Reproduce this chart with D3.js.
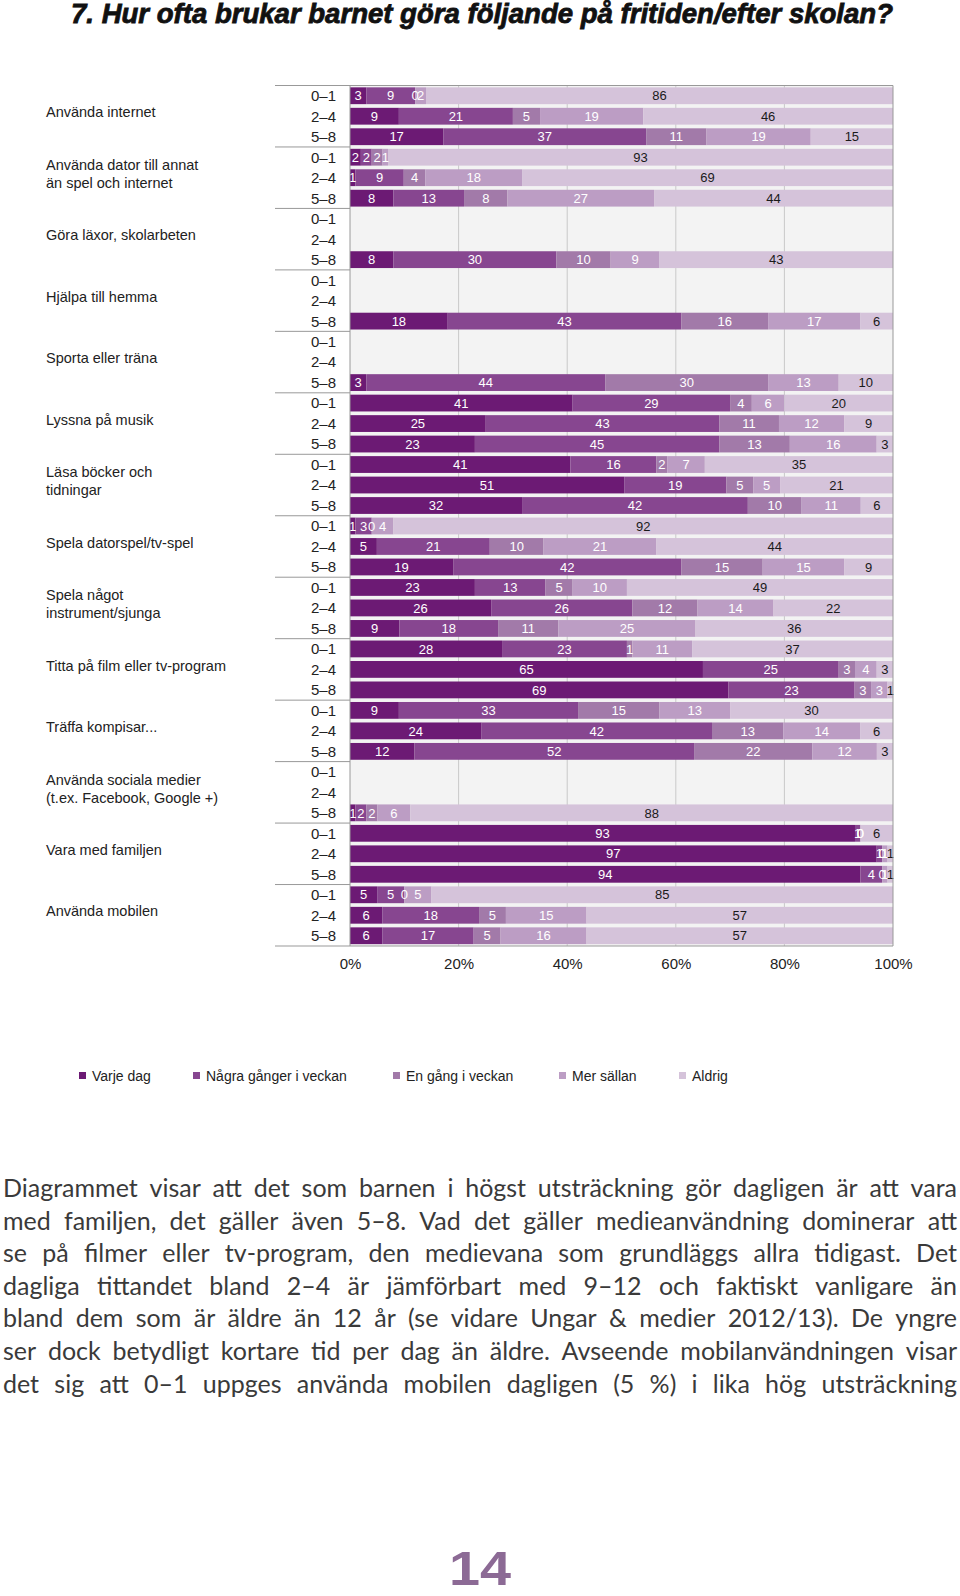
<!DOCTYPE html>
<html><head><meta charset="utf-8">
<script src="https://cdn.jsdelivr.net/npm/d3@7"></script>
<style>
html,body{margin:0;padding:0;background:#fff;}
svg{display:block;}
</style></head>
<body>
<script>
const categories = [
  ["Använda internet"],
  ["Använda dator till annat", "än spel och internet"],
  ["Göra läxor, skolarbeten"],
  ["Hjälpa till hemma"],
  ["Sporta eller träna"],
  ["Lyssna på musik"],
  ["Läsa böcker och", "tidningar"],
  ["Spela datorspel/tv-spel"],
  ["Spela något", "instrument/sjunga"],
  ["Titta på film eller tv-program"],
  ["Träffa kompisar..."],
  ["Använda sociala medier", "(t.ex. Facebook, Google +)"],
  ["Vara med familjen"],
  ["Använda mobilen"]
];
const ageGroups = ["0–1", "2–4", "5–8"];
const seriesNames = ["Varje dag", "Några gånger i veckan", "En gång i veckan", "Mer sällan", "Aldrig"];
const n = null;
const varjeDag   = [3,9,17, 2,1,8, n,n,8, n,n,18, n,n,3, 41,25,23, 41,51,32, 1,5,19, 23,26,9, 28,65,69, 9,24,12, n,n,1, 93,97,94, 5,6,6];
const nagraGanger= [9,21,37, 2,9,13, n,n,30, n,n,43, n,n,44, 29,43,45, 16,19,42, 3,21,42, 13,26,18, 23,25,23, 33,42,52, n,n,2, 1,1,4, 5,18,17];
const enGang     = [0,5,11, 2,4,8, n,n,10, n,n,16, n,n,30, 4,11,13, 2,5,10, 0,10,15, 5,12,11, 1,3,3, 15,13,22, n,n,2, 0,0,0, 0,5,5];
const merSallan  = [2,19,19, 1,18,27, n,n,9, n,n,17, n,n,13, 6,12,16, 7,5,11, 4,21,15, 10,14,25, 11,4,3, 13,14,12, n,n,6, 0,1,1, 5,15,16];
const aldrig     = [86,46,15, 93,69,44, n,n,43, n,n,6, n,n,10, 20,9,3, 35,21,6, 92,44,9, 49,22,36, 37,3,1, 30,6,3, n,n,88, 6,1,1, 85,57,57];
const xTicks = [0, 20, 40, 60, 80, 100];
const title = "7. Hur ofta brukar barnet göra följande på fritiden/efter skolan?";
const paragraph = [
  "Diagrammet visar att det som barnen i högst utsträckning gör dagligen är att vara",
  "med familjen, det gäller även 5–8. Vad det gäller medieanvändning dominerar att",
  "se på filmer eller tv-program, den medievana som grundläggs allra tidigast. Det",
  "dagliga tittandet bland 2–4 är jämförbart med 9–12 och faktiskt vanligare än",
  "bland dem som är äldre än 12 år (se vidare Ungar & medier 2012/13). De yngre",
  "ser dock betydligt kortare tid per dag än äldre. Avseende mobilanvändningen visar",
  "det sig att 0–1 uppges använda mobilen dagligen (5 %) i lika hög utsträckning"
];
const pageNumber = "14";

const colors = ["#6c1a74", "#874690", "#a27aa9", "#bc9dc4", "#d5c3da"];
const seriesArrays = [varjeDag, nagraGanger, enGang, merSallan, aldrig];

const W = 960, H = 1596;
const svg = d3.select("body").append("svg").attr("width", W).attr("height", H)
  .style("font-family", "'Liberation Sans', Arial, Helvetica, sans-serif");

// Title
svg.append("text").attr("x", 71).attr("y", 23)
  .attr("textLength", 822).attr("lengthAdjust", "spacingAndGlyphs")
  .style("font-family", "'Liberation Sans Narrow', 'Arial Narrow', 'Liberation Sans', sans-serif")
  .style("font-weight", "bold").style("font-style", "italic").style("font-size", "27px")
  .attr("fill", "#111").attr("stroke", "#111").attr("stroke-width", 0.8).text(title);

// rows
const rows = [];
categories.forEach((c, gi) => ageGroups.forEach((a, ai) => {
  const idx = gi * 3 + ai;
  const r = {id: idx, group: gi, age: a};
  seriesNames.forEach((s, si) => r[s] = seriesArrays[si][idx]);
  r.present = varjeDag[idx] !== null;
  rows.push(r);
}));

const x0 = 350, x1 = 893, yTop = 85.5, yBot = 946;
const x = d3.scaleLinear().domain([0, 1]).range([x0, x1]);
const xPct = d3.scaleLinear().domain([0, 100]).range([x0, x1]);
const y = d3.scaleBand().domain(rows.map(r => r.id)).range([yTop, yBot]).paddingInner(0.18).paddingOuter(0.09);

// plot background
svg.append("rect").attr("x", x0).attr("y", yTop).attr("width", x1 - x0).attr("height", yBot - yTop).attr("fill", "#f3f3f3");
// gridlines
svg.append("g").selectAll("line").data(xTicks.filter(t => t > 0 && t < 100)).join("line")
  .attr("x1", d => xPct(d)).attr("x2", d => xPct(d)).attr("y1", yTop).attr("y2", yBot)
  .attr("stroke", "#c9c9c9").attr("stroke-width", 1);

const present = rows.filter(r => r.present);
const stack = d3.stack().keys(seriesNames).offset(d3.stackOffsetExpand)
  .value((d, k) => d[k] || 0);
const stacked = stack(present);

const barG = svg.append("g");
stacked.forEach((layer, si) => {
  barG.append("g").selectAll("rect").data(layer).join("rect")
    .attr("x", d => x(d[0])).attr("width", d => Math.max(0, x(d[1]) - x(d[0])))
    .attr("y", d => y(d.data.id)).attr("height", y.bandwidth())
    .attr("fill", colors[si]);
});
stacked.forEach((layer, si) => {
  barG.append("g").selectAll("text").data(layer).join("text")
    .attr("x", d => (x(d[0]) + x(d[1])) / 2)
    .attr("y", d => y(d.data.id) + y.bandwidth() / 2)
    .attr("dy", "0.36em").attr("text-anchor", "middle")
    .style("font-size", "13px")
    .attr("fill", si === 4 ? "#1a1a1a" : "#fff")
    .text(d => d.data[seriesNames[si]]);
});

// axes lines
svg.append("line").attr("x1", x0).attr("x2", x0).attr("y1", yTop).attr("y2", yBot).attr("stroke", "#999");
svg.append("line").attr("x1", x1).attr("x2", x1).attr("y1", yTop).attr("y2", yBot).attr("stroke", "#999");
svg.append("line").attr("x1", 275).attr("x2", x1).attr("y1", yTop).attr("y2", yTop).attr("stroke", "#999");
svg.append("line").attr("x1", 275).attr("x2", x1).attr("y1", yBot).attr("y2", yBot).attr("stroke", "#999");
// group separators
const step = y.step();
d3.range(1, categories.length).forEach(g => {
  const yy = y(g * 3) - (step - y.bandwidth()) / 2;
  svg.append("line").attr("x1", 275).attr("x2", x0).attr("y1", yy).attr("y2", yy).attr("stroke", "#999");
});

// row labels
svg.append("g").selectAll("text").data(rows).join("text")
  .attr("x", 336).attr("y", d => y(d.id) + y.bandwidth() / 2).attr("dy", "0.36em")
  .attr("text-anchor", "end").style("font-size", "15px").attr("fill", "#222")
  .text(d => d.age);

// category labels
const catG = svg.append("g");
categories.forEach((lines, gi) => {
  const cy = (y(gi * 3) + y(gi * 3 + 2) + y.bandwidth()) / 2 - 4;
  const lh = 18;
  const t = catG.append("text").attr("x", 46).style("font-size", "14.5px").attr("fill", "#222");
  lines.forEach((ln, li) => {
    t.append("tspan").attr("x", 46)
      .attr("y", cy + (li - (lines.length - 1) / 2) * lh).attr("dy", "0.36em").text(ln);
  });
});

// x axis labels
const xAxis = d3.axisBottom(xPct).tickValues(xTicks).tickFormat(d => d + "%").tickSize(0).tickPadding(12);
const ax = svg.append("g").attr("transform", `translate(0,${yBot})`).call(xAxis);
ax.select(".domain").remove();
ax.selectAll("text").style("font-size", "15px").style("font-family", "'Liberation Sans', Arial, sans-serif").attr("fill", "#222");

// legend
const legX = [79, 193, 393, 559, 679];
const legG = svg.append("g");
seriesNames.forEach((s, i) => {
  legG.append("rect").attr("x", legX[i]).attr("y", 1072).attr("width", 7).attr("height", 7).attr("fill", colors[i]);
  legG.append("text").attr("x", legX[i] + 13).attr("y", 1076).attr("dy", "0.36em")
    .style("font-size", "14px").attr("fill", "#222").text(s);
});

// paragraph (justified)
const pG = svg.append("g").style("font-family", "Lato, 'Noto Sans', sans-serif").style("font-size", "25px").attr("fill", "#3a3a3a");
const pLeft = 3, pRight = 957;
paragraph.forEach((line, li) => {
  const words = line.split(" ");
  const yy = 1197 + li * 32.6;
  const nodes = words.map(w => pG.append("text").attr("y", yy).text(w));
  const widths = nodes.map(nd => nd.node().getComputedTextLength());
  const total = d3.sum(widths);
  const gap = (pRight - pLeft - total) / (words.length - 1);
  let cx = pLeft;
  nodes.forEach((nd, i) => { nd.attr("x", cx); cx += widths[i] + gap; });
});

// page number
svg.append("text").attr("x", 480).attr("y", 1585).attr("text-anchor", "middle")
  .style("font-size", "48px").style("font-weight", "bold").attr("fill", "#8c6a95")
  .attr("textLength", 62).attr("lengthAdjust", "spacingAndGlyphs")
  .text(pageNumber);
</script>
</body></html>
